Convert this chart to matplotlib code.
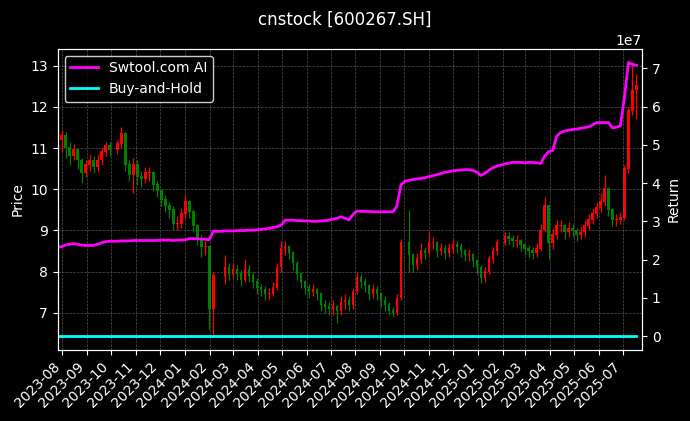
import numpy as np
import pandas as pd
import matplotlib
matplotlib.use("Agg")
import matplotlib.pyplot as plt
import matplotlib.dates as mdates

nan = np.nan

# precios (velas de ~5 dias)
closes = [
    11.2, 11.3, 11.0, 10.8, 10.95, 10.7, 10.4, 10.6, 10.7, 10.55,
    10.7, 10.9, 11.05, 10.95, nan, 11.1, 11.35, 10.6, 10.35, 10.6,
    10.3, 10.25, 10.4, 10.4, 10.1, 9.95, 9.75, 9.6, 9.5, 9.15,
    9.15, 9.4, 9.7, 9.45, 9.1, 8.8, 8.6, 8.6, 7.1, 7.9,
    nan, nan, 8.1, 7.95, 8.05, 7.95, 7.8, 8.05, 7.9, 7.75,
    7.6, 7.55, 7.45, 7.45, 7.6, 8.1, 8.55, 8.6, 8.45, 8.2,
    7.95, 7.75, 7.6, 7.5, 7.55, 7.45, 7.2, 7.15, 7.1, 7.15,
    7.05, 7.25, 7.3, 7.2, 7.5, 7.85, 7.75, 7.65, 7.45, 7.55,
    7.45, 7.3, 7.2, 7.05, 7.0, 7.35, 8.7, nan, 8.4, 8.15,
    8.3, 8.5, 8.45, 8.7, 8.7, 8.5, 8.55, 8.45, 8.55, 8.65,
    8.6, 8.5, 8.4, 8.4, 8.25, 8.1, 7.85, 8.0, 8.3, 8.5,
    8.7, nan, 8.85, 8.8, 8.75, 8.75, 8.65, 8.55, 8.5, 8.45,
    8.55, 9.0, 9.6, 8.7, 8.9, 9.1, 9.1, 8.95, 9.05, 9.0,
    8.9, 8.95, 9.1, 9.25, 9.4, 9.55, 9.7, 10.0, 9.5, 9.25,
    9.25, 9.3, 10.5, 11.9, 12.4, 12.5]

highs = [
    11.45, 11.45, 11.4, 11.15, 11.1, 11.0, 10.75, 10.7, 10.85, 10.8,
    10.85, 11.0, 11.15, 11.15, nan, 11.2, 11.5, 11.4, 10.7, 10.75,
    10.7, 10.45, 10.55, 10.55, 10.45, 10.2, 10.0, 9.85, 9.7, 9.6,
    9.35, 9.55, 9.85, 9.75, 9.5, 9.15, 8.9, 8.75, 8.65, 8.0,
    nan, nan, 8.4, 8.2, 8.2, 8.15, 8.05, 8.3, 8.15, 8.0,
    7.85, 7.7, 7.65, 7.6, 7.75, 8.2, 8.75, 8.75, 8.65, 8.5,
    8.25, 8.0, 7.8, 7.7, 7.7, 7.6, 7.5, 7.3, 7.25, 7.3,
    7.2, 7.4, 7.45, 7.4, 7.6, 8.0, 7.95, 7.85, 7.7, 7.7,
    7.65, 7.5, 7.4, 7.25, 7.15, 7.45, 8.78, nan, 9.5, 8.45,
    8.45, 8.7, 8.6, 8.95, 8.85, 8.75, 8.7, 8.65, 8.7, 8.8,
    8.75, 8.7, 8.55, 8.55, 8.45, 8.3, 8.15, 8.1, 8.4, 8.6,
    8.8, nan, 8.95, 8.95, 8.9, 8.9, 8.8, 8.7, 8.65, 8.6,
    8.7, 9.15, 9.8, 9.6, 9.05, 9.25, 9.25, 9.15, 9.2, 9.15,
    9.05, 9.1, 9.25, 9.4, 9.55, 9.7, 9.9, 10.35, 10.05, 9.55,
    9.4, 9.45, 10.6, 12.0, 13.08, 12.8]

lows = [
    10.95, 10.9, 10.75, 10.6, 10.7, 10.5, 10.15, 10.3, 10.45, 10.4,
    10.45, 10.6, 10.8, 10.8, nan, 10.85, 11.0, 10.45, 10.2, 9.9,
    10.1, 10.05, 10.15, 10.2, 9.95, 9.8, 9.6, 9.45, 9.3, 9.0,
    9.0, 9.05, 9.3, 9.3, 8.95, 8.65, 8.36, 8.4, 6.6, 6.43,
    nan, nan, 7.7, 7.8, 7.85, 7.8, 7.65, 7.75, 7.75, 7.6,
    7.45, 7.4, 7.3, 7.3, 7.4, 7.55, 8.0, 8.4, 8.3, 8.05,
    7.8, 7.6, 7.45, 7.35, 7.4, 7.3, 7.05, 7.0, 6.95, 6.95,
    6.76, 6.95, 7.1, 7.05, 7.1, 7.45, 7.6, 7.5, 7.3, 7.35,
    7.3, 7.15, 7.05, 6.95, 6.9, 6.95, 7.3, nan, 8.0, 7.98,
    8.05, 8.2, 8.3, 8.4, 8.55, 8.35, 8.4, 8.3, 8.35, 8.45,
    8.45, 8.35, 8.25, 8.25, 8.1, 7.95, 7.73, 7.75, 7.95, 8.2,
    8.4, nan, 8.65, 8.65, 8.6, 8.6, 8.5, 8.4, 8.35, 8.3,
    8.35, 8.5, 8.95, 8.3, 8.55, 8.8, 8.95, 8.8, 8.85, 8.85,
    8.75, 8.8, 8.85, 9.0, 9.15, 9.3, 9.45, 9.6, 9.35, 9.1,
    9.1, 9.15, 9.25, 10.4, 11.8, 11.7]

# retorno de la estrategia (x1e7)
ai_return = [
    2.32, 2.34, 2.38, 2.40, 2.42, 2.40, 2.38, 2.37, 2.37, 2.37,
    2.40, 2.44, 2.47, 2.48, 2.48, 2.48, 2.49, 2.49, 2.49, 2.50,
    2.50, 2.50, 2.50, 2.50, 2.50, 2.50, 2.51, 2.51, 2.51, 2.50,
    2.51, 2.51, 2.52, 2.55, 2.55, 2.54, 2.54, 2.53, 2.52, 2.74,
    2.74, 2.74, 2.75, 2.75, 2.75, 2.76, 2.76, 2.76, 2.77, 2.77,
    2.78, 2.79, 2.80, 2.82, 2.84, 2.86, 2.90, 3.03, 3.03, 3.03,
    3.02, 3.02, 3.01, 3.01, 3.00, 3.00, 3.01, 3.02, 3.03, 3.06,
    3.08, 3.12, 3.08, 3.04, 3.18, 3.27, 3.26, 3.26, 3.26, 3.25,
    3.25, 3.25, 3.25, 3.25, 3.25, 3.40, 3.95, 4.05, 4.07, 4.09,
    4.11, 4.12, 4.14, 4.17, 4.19, 4.22, 4.25, 4.28, 4.30, 4.32,
    4.33, 4.34, 4.35, 4.35, 4.33, 4.29, 4.20, 4.25, 4.33, 4.40,
    4.44, 4.47, 4.50, 4.52, 4.54, 4.54, 4.54, 4.53, 4.54, 4.54,
    4.53, 4.51, 4.70, 4.82, 4.85, 5.22, 5.32, 5.36, 5.38, 5.40,
    5.41, 5.43, 5.45, 5.47, 5.52, 5.58, 5.58, 5.58, 5.58, 5.44,
    5.46, 5.50, 6.25, 7.15, 7.10, 7.08]

fechas = pd.date_range("2023-07-26", "2025-07-18", periods=len(closes))

closes = np.array(closes)
highs = np.array(highs)
lows = np.array(lows)
opens = pd.Series(closes).ffill().shift(1).to_numpy()
opens[0] = closes[0]
ai = np.array(ai_return) * 1e7
buy_hold = pd.Series(closes).ffill().to_numpy() / closes[0]

x = mdates.date2num(fechas)
ok = ~np.isnan(closes)
sube = ok & (closes >= opens)
baja = ok & (closes < opens)

plt.style.use("dark_background")
fig = plt.figure(figsize=(6.9, 4.21), dpi=100)
ax = fig.add_axes([0.0835, 0.169, 0.847, 0.715])

# velas
for m, col in [(sube, "red"), (baja, "green")]:
    ax.vlines(x[m], lows[m], highs[m], color=col, linewidth=0.9)
    ax.bar(x[m], np.abs(closes[m] - opens[m]) + 0.02,
           bottom=np.minimum(opens[m], closes[m]), width=3.0,
           color=col, edgecolor=col, linewidth=0)

ax.set_ylim(6.1, 13.41)
ax.set_xlim(mdates.date2num(pd.Timestamp("2023-07-26")),
            mdates.date2num(pd.Timestamp("2025-07-25")))
ax.set_ylabel("Price")
ax.grid(True, linestyle="--", linewidth=0.5, color="#666666", alpha=0.8)
ax.xaxis.set_major_locator(mdates.MonthLocator())
ax.xaxis.set_major_formatter(mdates.DateFormatter("%Y-%m"))
plt.setp(ax.get_xticklabels(), rotation=45, ha="right")

ax2 = ax.twinx()
ax2.plot(fechas, ai, color="magenta", linewidth=2, label="Swtool.com AI")
ax2.plot(fechas, buy_hold, color="cyan", linewidth=2, label="Buy-and-Hold")
ax2.set_ylabel("Return")
ax2.legend(loc="upper left", facecolor="black", edgecolor="white")

fig.suptitle("cnstock [600267.SH]", y=0.975, fontsize=12)
fig.savefig("out.png", dpi=100, facecolor="black")
